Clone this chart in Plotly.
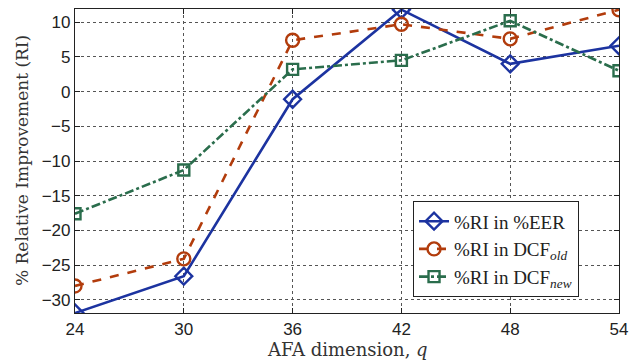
import plotly.graph_objects as go

q = [24, 30, 36, 42, 48, 54]
ri_eer = [-31.9, -26.6, -1.1, 11.8, 4.0, 6.6]
ri_dcf_old = [-28.0, -24.1, 7.4, 9.7, 7.6, 11.8]
ri_dcf_new = [-17.6, -11.3, 3.2, 4.5, 10.2, 3.0]
y_ticks = [10, 5, 0, -5, -10, -15, -20, -25, -30]
y_ticklabels = ["10", "5", "0", "\u22125", "\u221210", "\u221215", "\u221220", "\u221225", "\u221230"]

blue = "#1c33a0"
red = "#b23c0c"
green = "#2a6d4c"

fig = go.Figure()
fig.add_trace(go.Scatter(x=q, y=ri_eer, mode="lines+markers", name="%RI in %EER",
                         line=dict(color=blue, width=2.6),
                         marker=dict(symbol="diamond-open", size=13, color=blue, line=dict(width=2.4, color=blue))))
fig.add_trace(go.Scatter(x=q, y=ri_dcf_old, mode="lines+markers", name="%RI in DCF<sub><i>old</i></sub>",
                         line=dict(color=red, width=2.6, dash="dash"),
                         marker=dict(symbol="circle-open", size=13, color=red, line=dict(width=2.4, color=red))))
fig.add_trace(go.Scatter(x=q, y=ri_dcf_new, mode="lines+markers", name="%RI in DCF<sub><i>new</i></sub>",
                         line=dict(color=green, width=2.6, dash="dashdot"),
                         marker=dict(symbol="square-open", size=11, color=green, line=dict(width=2.4, color=green))))

axis_common = dict(showline=True, linecolor="#222", linewidth=1.2, mirror="ticks",
                   ticks="inside", ticklen=5, tickcolor="#222",
                   showgrid=True, gridcolor="#555", griddash="dot", gridwidth=1,
                   zeroline=False, automargin=False, ticklabeloverflow="allow",
                   tickfont=dict(family="Liberation Sans, Arial", size=17, color="#222"))

fig.update_layout(
    width=630, height=361,
    margin=dict(l=75, r=11, t=9, b=48),
    paper_bgcolor="white", plot_bgcolor="white",
    hovermode=False,
    xaxis=dict(range=[24, 54], tickvals=q, ticktext=[str(v) for v in q], **axis_common),
    yaxis=dict(range=[-31.9, 11.9], tickvals=y_ticks, ticktext=y_ticklabels, **axis_common),
    legend=dict(x=0.621, y=0.368, xanchor="left", yanchor="top",
                bgcolor="white", bordercolor="#222", borderwidth=1.2,
                font=dict(family="Liberation Serif", size=19, color="#222"),
                tracegroupgap=0),
    showlegend=True,
    annotations=[
        dict(text="AFA dimension, <i>q</i>", xref="paper", yref="paper", x=0.5, y=0,
             yshift=-36, xanchor="center", yanchor="middle", showarrow=False,
             font=dict(family="DejaVu Serif", size=18, color="#333")),
        dict(text="% Relative Improvement (RI)", xref="paper", yref="paper", x=0, y=0.5,
             xshift=-53, xanchor="center", yanchor="middle", textangle=-90, showarrow=False,
             font=dict(family="DejaVu Serif", size=17, color="#333")),
    ],
)

# Remove the browser's default body margin so the 630x361 figure fills the window exactly.
fig.write_html("out.html", config={"displayModeBar": False},
               post_script="document.body.style.margin='0';document.body.style.overflow='hidden';")
